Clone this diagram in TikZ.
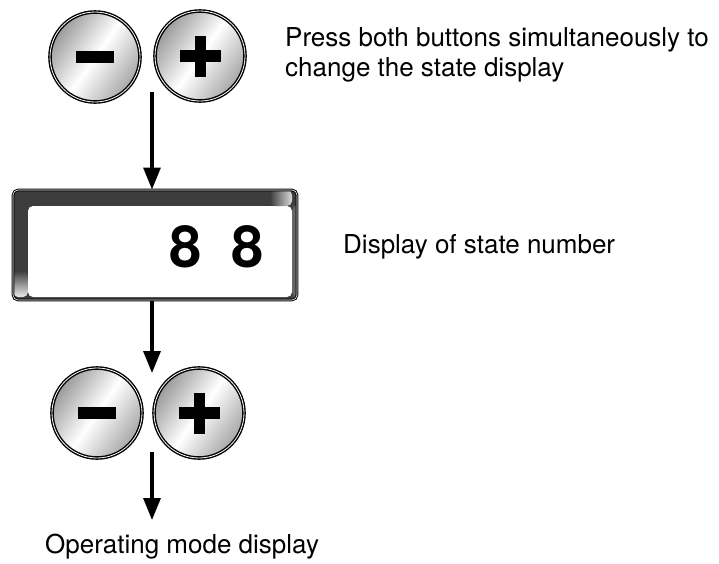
\documentclass[tikz,border=0pt]{standalone}
\usepackage{fontspec}
\setmainfont{TeX Gyre Heros}
\usetikzlibrary{arrows.meta}

\tikzset{
  button/.style={circle, inner sep=0pt, minimum size=90pt, draw=black, line width=1.4pt,
    double=white, double distance=0.8pt,
    left color=gray!80, right color=gray!70, middle color=white, shading angle=55},
  minus/.style={button, path picture={
    \fill (path picture bounding box.center) ++(-19pt,-6pt) rectangle ++(38pt,12pt);}},
  plus/.style={button, path picture={
    \fill (path picture bounding box.center) ++(-20.5pt,-6pt) rectangle ++(41pt,12pt);
    \fill (path picture bounding box.center) ++(-5.5pt,-20.5pt) rectangle ++(11pt,41pt);}},
  flow/.style={line width=3.3pt, -{Triangle[length=22pt,width=17pt]}},
  note/.style={font=\fontsize{26}{30}\selectfont, inner sep=0pt, align=left}
}
\colorlet{bevel}{black!76}

\begin{document}
\begin{tikzpicture}[x=1pt, y=1pt]
    \useasboundingbox (0,0) rectangle (719,-563);
    % Top buttons
    \node[minus] (minusA) at (95,-57) {};
    \node[plus] (plusA) at (200,-56) {};
    \node[note, anchor=base west] (press) at (285,-76)
      {Press both buttons simultaneously to\\change the state display};
    % State display
    \node[rectangle, rounded corners=5pt, inner sep=0pt, minimum width=284pt, minimum height=110pt,
      fill=white, draw=black, line width=1pt, double=white, double distance=0.6pt,
      path picture={
        \fill[bevel] (path picture bounding box.north west) rectangle (path picture bounding box.south east);
        \fill[white] (path picture bounding box.north west) ++(15pt,-16pt) rectangle
          ([xshift=-5pt,yshift=3pt]path picture bounding box.south east);
        \shade[top color=bevel, bottom color=white] (path picture bounding box.south west) ++(0,3pt)
          rectangle ++(15pt,26pt);
        \shade[left color=bevel, right color=white] (path picture bounding box.north east) ++(-5pt,0)
          rectangle ++(-22pt,-16pt);
        \fill[black!60] (path picture bounding box.north east) ++(-5pt,-16pt) rectangle
          ([yshift=3pt]path picture bounding box.south east);
      }] (display) at (155,-245) {};
    \node[font=\fontsize{58}{60}\bfseries\selectfont, inner sep=0pt] (digits) at (216.5,-247) {8\hspace{29pt}8};
    \node[note, anchor=base west] (stateno) at (343,-253) {Display of state number};
    % Bottom buttons
    \node[minus] (minusB) at (97,-413) {};
    \node[plus] (plusB) at (199,-413) {};
    \node[note, anchor=base west] (opmode) at (45,-553) {Operating mode display};
    % Arrows
    \coordinate (topjoin) at (152,-92);
    \coordinate (midjoin) at (152,-373);
    \coordinate (lowjoin) at (152,-452);
    \coordinate (endjoin) at (152,-520);
    \draw[flow] (topjoin) -- (topjoin |- display.north);
    \draw[flow] (topjoin |- display.south) -- (midjoin);
    \draw[flow] (lowjoin) -- (endjoin);
\end{tikzpicture}
\end{document}
